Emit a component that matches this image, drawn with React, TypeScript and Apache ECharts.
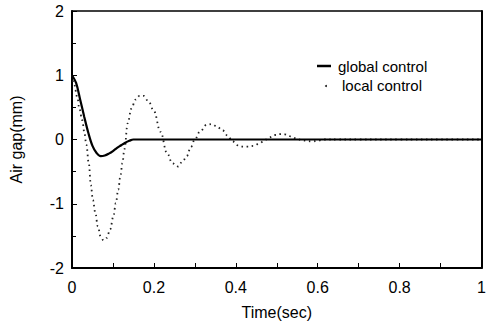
import React, { useEffect, useRef } from "react";
import * as echarts from "echarts";

const xTickLabels = ["0", "0.2", "0.4", "0.6", "0.8", "1"];
const yTickLabels = ["-2", "-1", "0", "1", "2"];

const globalTime = [0, 0.01, 0.02, 0.03, 0.04, 0.05, 0.06, 0.07, 0.08, 0.09, 0.1, 0.11, 0.12, 0.13, 0.14, 0.15, 0.2, 0.3, 0.4, 0.5, 0.6, 0.7, 0.8, 0.9, 1.0];
const globalValue = [1.0, 0.88, 0.62, 0.35, 0.1, -0.1, -0.21, -0.26, -0.25, -0.22, -0.18, -0.13, -0.09, -0.05, -0.02, 0, 0, 0, 0, 0, 0, 0, 0, 0, 0];

const localTime = [0, 0.005, 0.013, 0.018, 0.025, 0.03, 0.035, 0.041, 0.046, 0.051, 0.057, 0.063, 0.07, 0.077, 0.085, 0.093, 0.101, 0.107, 0.113, 0.118, 0.123, 0.128, 0.136, 0.145, 0.155, 0.165, 0.175, 0.188, 0.2, 0.216, 0.232, 0.245, 0.259, 0.27, 0.28, 0.29, 0.3, 0.312, 0.329, 0.342, 0.354, 0.368, 0.38, 0.392, 0.405, 0.418, 0.43, 0.444, 0.458, 0.469, 0.481, 0.496, 0.508, 0.52, 0.534, 0.547, 0.56, 0.572, 0.586, 0.6, 0.615, 0.65, 0.7, 0.8, 0.9, 1.0];
const localValue = [1.0, 0.86, 0.66, 0.48, 0.3, 0.12, -0.08, -0.37, -0.71, -0.94, -1.14, -1.35, -1.51, -1.57, -1.53, -1.4, -1.2, -0.99, -0.78, -0.58, -0.37, -0.15, 0.25, 0.48, 0.62, 0.68, 0.68, 0.58, 0.44, 0.12, -0.21, -0.37, -0.42, -0.34, -0.26, -0.12, 0.0, 0.12, 0.23, 0.24, 0.2, 0.14, 0.06, -0.03, -0.09, -0.11, -0.11, -0.1, -0.06, -0.02, 0.03, 0.07, 0.085, 0.08, 0.05, 0.02, -0.01, -0.02, -0.03, -0.02, 0, 0, 0, 0, 0, 0];

const seriesNames = ["global control", "local control"];

const FONT = "'Liberation Sans', Arial, Helvetica, sans-serif";

export default function App() {
  const ref = useRef<HTMLDivElement>(null);
  useEffect(() => {
    if (!ref.current) return;
    const chart = echarts.init(ref.current, null, { renderer: "svg" });
    const globalData = globalTime.map((t, i) => [t, globalValue[i]]);
    const localData = localTime.map((t, i) => [t, localValue[i]]);
    chart.setOption({
      animation: false,
      backgroundColor: "#fff",
      grid: { left: 70, right: 2, top: 11, bottom: 58 },
      xAxis: [
        {
          type: "value",
          min: 0,
          max: 1,
          interval: 0.2,
          name: "Time(sec)",
          nameLocation: "middle",
          nameGap: 36,
          nameTextStyle: { color: "#000", fontSize: 16, fontFamily: FONT },
          axisLine: { show: true, onZero: false, lineStyle: { color: "#000", width: 2 } },
          axisTick: { show: true, inside: true, length: 5, lineStyle: { color: "#000", width: 1 } },
          minorTick: { show: true, splitNumber: 2, length: 5, lineStyle: { color: "#000", width: 1 } },
          splitLine: { show: false },
          axisLabel: {
            color: "#000",
            fontSize: 16,
            fontFamily: FONT,
            margin: 11,
            formatter: (v: number) => xTickLabels[Math.round(v / 0.2)] ?? String(v),
          },
        },
        {
          type: "value",
          position: "top",
          min: 0,
          max: 1,
          axisLine: { show: true, onZero: false, lineStyle: { color: "#000", width: 1.5 } },
          axisTick: { show: false },
          axisLabel: { show: false },
          splitLine: { show: false },
        },
      ],
      yAxis: [
        {
          type: "value",
          min: -2,
          max: 2,
          interval: 1,
          name: "Air gap(mm)",
          nameLocation: "middle",
          nameGap: 48,
          nameTextStyle: { color: "#000", fontSize: 16, fontFamily: FONT },
          axisLine: { show: true, onZero: false, lineStyle: { color: "#000", width: 2 } },
          axisTick: { show: true, inside: true, length: 5, lineStyle: { color: "#000", width: 1 } },
          minorTick: { show: true, splitNumber: 2, length: 4, lineStyle: { color: "#000", width: 1 } },
          splitLine: { show: false },
          axisLabel: {
            color: "#000",
            fontSize: 16,
            fontFamily: FONT,
            margin: 8,
            formatter: (v: number) => yTickLabels[Math.round(v + 2)] ?? String(v),
          },
        },
        {
          type: "value",
          position: "right",
          min: -2,
          max: 2,
          axisLine: { show: true, onZero: false, lineStyle: { color: "#000", width: 2 } },
          axisTick: { show: false },
          axisLabel: { show: false },
          splitLine: { show: false },
        },
      ],
      series: [
        {
          name: seriesNames[0],
          type: "line",
          data: globalData,
          smooth: 0.35,
          showSymbol: false,
          symbol: "none",
          lineStyle: { color: "#000", width: 2.2 },
          z: 3,
        },
        {
          name: seriesNames[1],
          type: "line",
          data: localData,
          smooth: 0.4,
          smoothMonotone: "x",
          showSymbol: false,
          symbol: "none",
          lineStyle: { color: "#222", width: 1.8, type: [1.5, 3.6], cap: "butt" },
          z: 2,
        },
      ],
      graphic: [
        {
          type: "line",
          shape: { x1: 317, y1: 66, x2: 331, y2: 66 },
          style: { stroke: "#000", lineWidth: 2.5 },
        },
        {
          type: "text",
          x: 338,
          y: 66,
          style: { text: seriesNames[0], fill: "#000", fontSize: 15, fontFamily: FONT, verticalAlign: "middle" },
        },
        {
          type: "circle",
          shape: { cx: 326, cy: 86, r: 1 },
          style: { fill: "#222" },
        },
        {
          type: "text",
          x: 342,
          y: 85,
          style: { text: seriesNames[1], fill: "#000", fontSize: 15, fontFamily: FONT, verticalAlign: "middle" },
        },
      ],
    });
    return () => chart.dispose();
  }, []);
  return <div ref={ref} style={{ width: 489, height: 326, position: "absolute", left: 0, top: 0 }} />;
}
